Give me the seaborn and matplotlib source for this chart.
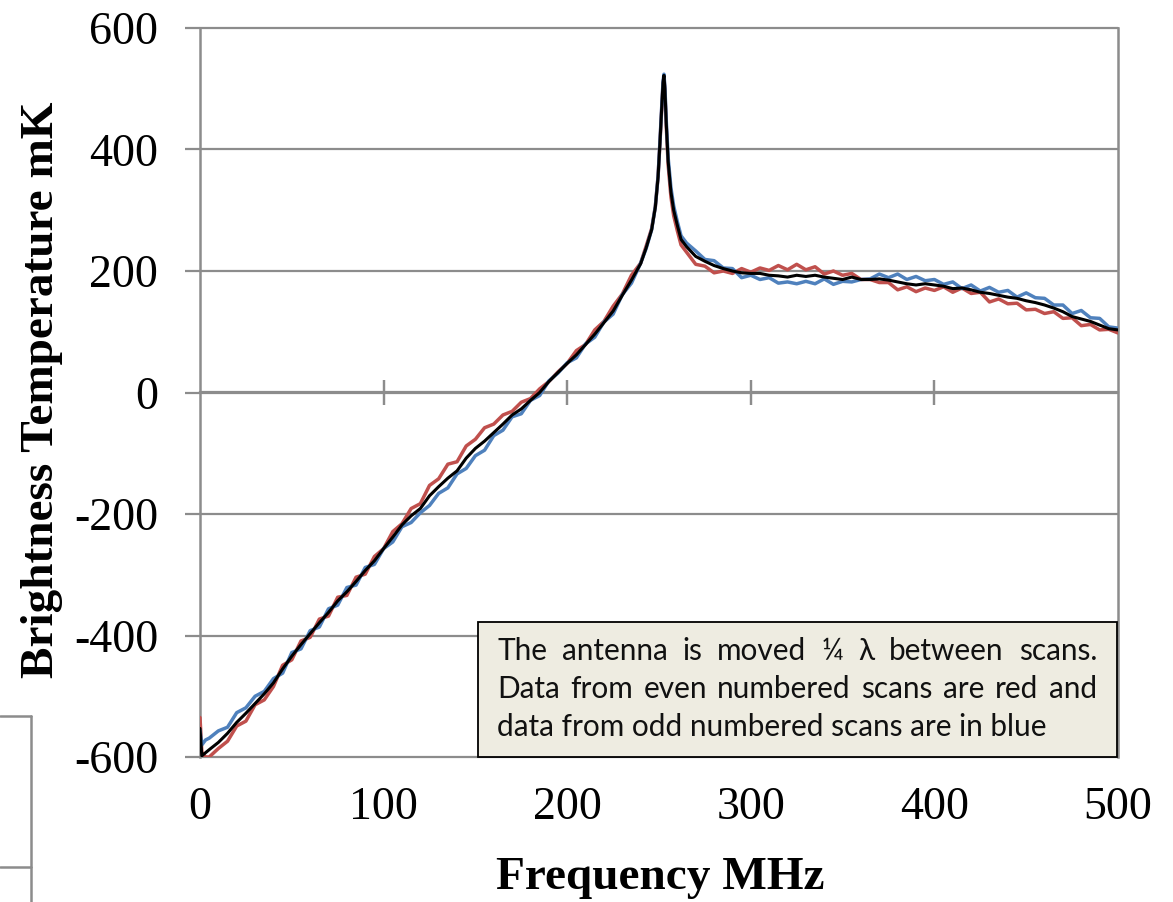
import matplotlib
matplotlib.use("Agg")
import matplotlib.pyplot as plt
import seaborn as sns
import numpy as np
import pandas as pd
from matplotlib.lines import Line2D
from matplotlib.patches import Rectangle

# ---------------- data ----------------
freq = [0, 1, 3, 5, 10, 15, 20, 25, 30, 35, 40, 45, 50, 55, 60, 65, 70, 75, 80, 85,
        90, 95, 100, 105, 110, 115, 120, 125, 130, 135, 140, 145, 150, 155, 160, 165,
        170, 175, 180, 185, 190, 195, 200, 205, 210, 215, 220, 225, 230, 235, 240,
        243, 246, 248, 249.5, 250.5, 251.5, 252.2, 252.7, 253.2, 254, 255, 256.5, 258,
        260, 262, 265, 270, 275, 280, 285, 290, 295, 300, 305, 310, 315, 320, 325, 330,
        335, 340, 345, 350, 355, 360, 365, 370, 375, 380, 385, 390, 395, 400, 405, 410,
        415, 420, 425, 430, 435, 440, 445, 450, 455, 460, 465, 470, 475, 480, 485, 490,
        495, 500]

average_scan = [-553, -598, -593, -588, -576, -561, -543, -528, -512, -496, -478, -455,
                -434, -415, -397, -379, -362, -343, -328, -311, -293, -277, -257, -238,
                -218, -203, -191, -170, -155, -141, -129, -108, -92, -80, -66, -52, -37,
                -27, -13, 0, 18, 33, 48, 62, 79, 96, 115, 134, 160, 185, 212,
                238, 268, 305, 355, 410, 470, 510, 522, 500, 440, 380, 330, 300,
                275, 252, 240, 224, 216, 209, 204, 200, 197, 196, 196, 193, 192, 190, 193, 191,
                193, 190, 188, 186, 190, 186, 186, 187, 185, 182, 179, 177, 179, 177, 175, 171,
                172, 169, 165, 163, 160, 157, 155, 151, 148, 144, 139, 133, 125, 121, 117, 111,
                105, 103]

even_scans = [-535, -592, -600, -600, -586, -574, -549, -541, -514, -506, -484, -449,
              -440, -409, -403, -373, -368, -337, -334, -304, -299, -270, -257, -229,
              -216, -191, -183, -153, -142, -118, -114, -88, -77, -58, -52, -37, -31,
              -16, -10, 6, 18, 34, 48, 69, 79, 103, 117, 142, 162, 193, 213,
              241, 270, 306, 356, 410, 468, 508, 520, 498, 436, 374, 322, 291,
              266, 243, 231, 211, 208, 197, 200, 196, 204, 198, 205, 201, 209, 202, 211, 202,
              207, 195, 200, 193, 196, 186, 186, 181, 181, 169, 174, 166, 172, 168, 174, 165,
              172, 163, 165, 149, 154, 146, 147, 136, 137, 130, 133, 122, 123, 110, 112, 103,
              104, 98]

odd_scans = [-556, -580, -572, -569, -557, -551, -527, -519, -500, -492, -471, -462,
             -428, -422, -392, -386, -356, -350, -321, -317, -288, -283, -257, -246,
             -221, -214, -198, -186, -166, -157, -134, -125, -104, -95, -71, -62, -40,
             -35, -13, -5, 19, 32, 49, 57, 80, 91, 116, 129, 161, 180, 213,
             237, 268, 306, 356, 412, 472, 512, 524, 503, 445, 386, 337, 307,
             281, 258, 246, 233, 219, 217, 205, 204, 189, 193, 186, 189, 180, 182, 179, 183,
             179, 187, 178, 183, 182, 186, 187, 195, 189, 195, 186, 191, 184, 186, 178, 182,
             171, 177, 167, 173, 165, 168, 157, 164, 156, 155, 144, 144, 130, 135, 123, 122,
             108, 106]

x_ticks = [0, 100, 200, 300, 400, 500]
y_ticks = [-600, -400, -200, 0, 200, 400, 600]
x_label = "Frequency MHz"
y_label = "Brightness Temperature mK"
note_lines = ["The antenna is moved \u00bc \u03bb between scans.",
              "Data from even numbered scans are red and",
              "data from odd numbered scans are in blue"]

# ---------------- styling ----------------
sns.set_theme(style="white")
plt.rcParams["font.family"] = ["Liberation Serif", "DejaVu Serif"]
plt.rcParams["axes.unicode_minus"] = False
plt.rcParams["text.color"] = "black"
plt.rcParams["xtick.labelcolor"] = "black"
plt.rcParams["ytick.labelcolor"] = "black"

W, H = 1173, 902
GRID = "#8c8c8c"
RED = "#C0504D"
BLUE = "#4F81BD"

fig = plt.figure(figsize=(W / 100, H / 100), dpi=100)
ax = fig.add_axes([200 / W, 1 - 757 / H, 918 / W, 729 / H])

df = pd.DataFrame({"freq": freq, "even": even_scans, "odd": odd_scans, "avg": average_scan})
sns.lineplot(data=df, x="freq", y="even", ax=ax, color=RED, lw=2.5, estimator=None, zorder=3)
sns.lineplot(data=df, x="freq", y="odd", ax=ax, color=BLUE, lw=2.5, estimator=None, zorder=3)
sns.lineplot(data=df, x="freq", y="avg", ax=ax, color="black", lw=2.2, estimator=None, zorder=4)

ax.set_xlim(0, 500)
ax.set_ylim(-600, 600)
ax.set_xlabel("")
ax.set_ylabel("")
ax.grid(False)
for yv in y_ticks:
    ax.axhline(yv, color=GRID, lw=1.6, zorder=1, clip_on=False)

for s in ["top", "bottom"]:
    ax.spines[s].set_visible(False)
for s in ["left", "right"]:
    ax.spines[s].set_visible(True)
    ax.spines[s].set_color(GRID)
    ax.spines[s].set_linewidth(1.8)

ax.set_yticks(y_ticks)
ax.set_yticklabels([str(v) for v in y_ticks])
ax.tick_params(axis="y", direction="out", length=11, width=1.6, color=GRID,
               labelsize=33, pad=19, left=True, labelcolor="black")
ax.set_xticks(x_ticks)
ax.set_xticklabels([str(v) for v in x_ticks])
ax.tick_params(axis="x", length=0, labelsize=33, pad=21, labelcolor="black")

# x axis line crossing at zero with tick marks
sec = ax.secondary_xaxis(0.5)
sec.set_xticks([100, 200, 300, 400])
sec.set_xticklabels([])
sec.tick_params(axis="x", direction="inout", length=18, width=1.6, color=GRID, bottom=True)
for s in sec.spines.values():
    s.set_visible(False)
sec.spines["bottom"].set_visible(True)
sec.spines["bottom"].set_color(GRID)
sec.spines["bottom"].set_linewidth(1.6)

# axis titles
fig.text(660 / W, 1 - 878 / H, x_label, ha="center", va="center",
         fontsize=34, fontweight="bold", color="black")
fig.text(42 / W, 1 - 390 / H, y_label, ha="center", va="center",
         fontsize=34, fontweight="bold", rotation=90, color="black")

# annotation box
box_x0, box_x1 = 478, 1117
box_y0, box_y1 = 622, 757
fig.add_artist(Rectangle((box_x0 / W, 1 - box_y1 / H), (box_x1 - box_x0) / W,
                         (box_y1 - box_y0) / H, transform=fig.transFigure,
                         facecolor="#EEECE1", edgecolor="black", lw=1.3, zorder=5))

renderer = fig.canvas.get_renderer()
note_family = ["Lato", "DejaVu Sans"]


def text_width(s, fs):
    t = fig.text(0, 0, s, fontsize=fs, family=note_family)
    w = t.get_window_extent(renderer).width
    t.remove()
    return w


fs = 20
for _ in range(6):
    w = text_width(note_lines[2], fs)
    fs *= 550 / w

left, right = 497, 1097
baselines = [660, 698, 736]
for i, line in enumerate(note_lines):
    yb = 1 - baselines[i] / H
    if i < 2:
        words = line.split(" ")
        ws = [text_width(wd, fs) for wd in words]
        gap = (right - left - sum(ws)) / (len(words) - 1)
        xp = left
        for wd, wv in zip(words, ws):
            fig.text(xp / W, yb, wd, fontsize=fs, family=note_family, va="baseline",
                     ha="left", color="#111111", zorder=6)
            xp += wv + gap
    else:
        fig.text(left / W, yb, line, fontsize=fs, family=note_family, va="baseline",
                 ha="left", color="#111111", zorder=6)

# stray frame fragment at lower left (from a neighbouring chart)
for (xa, ya, xb, yb2) in [(0, 716, 31, 716), (31, 716, 31, 902), (0, 867, 31, 867)]:
    fig.add_artist(Line2D([xa / W, xb / W], [1 - ya / H, 1 - yb2 / H],
                          transform=fig.transFigure, color=GRID, lw=1.8))

fig.savefig("out.png", dpi=100)
